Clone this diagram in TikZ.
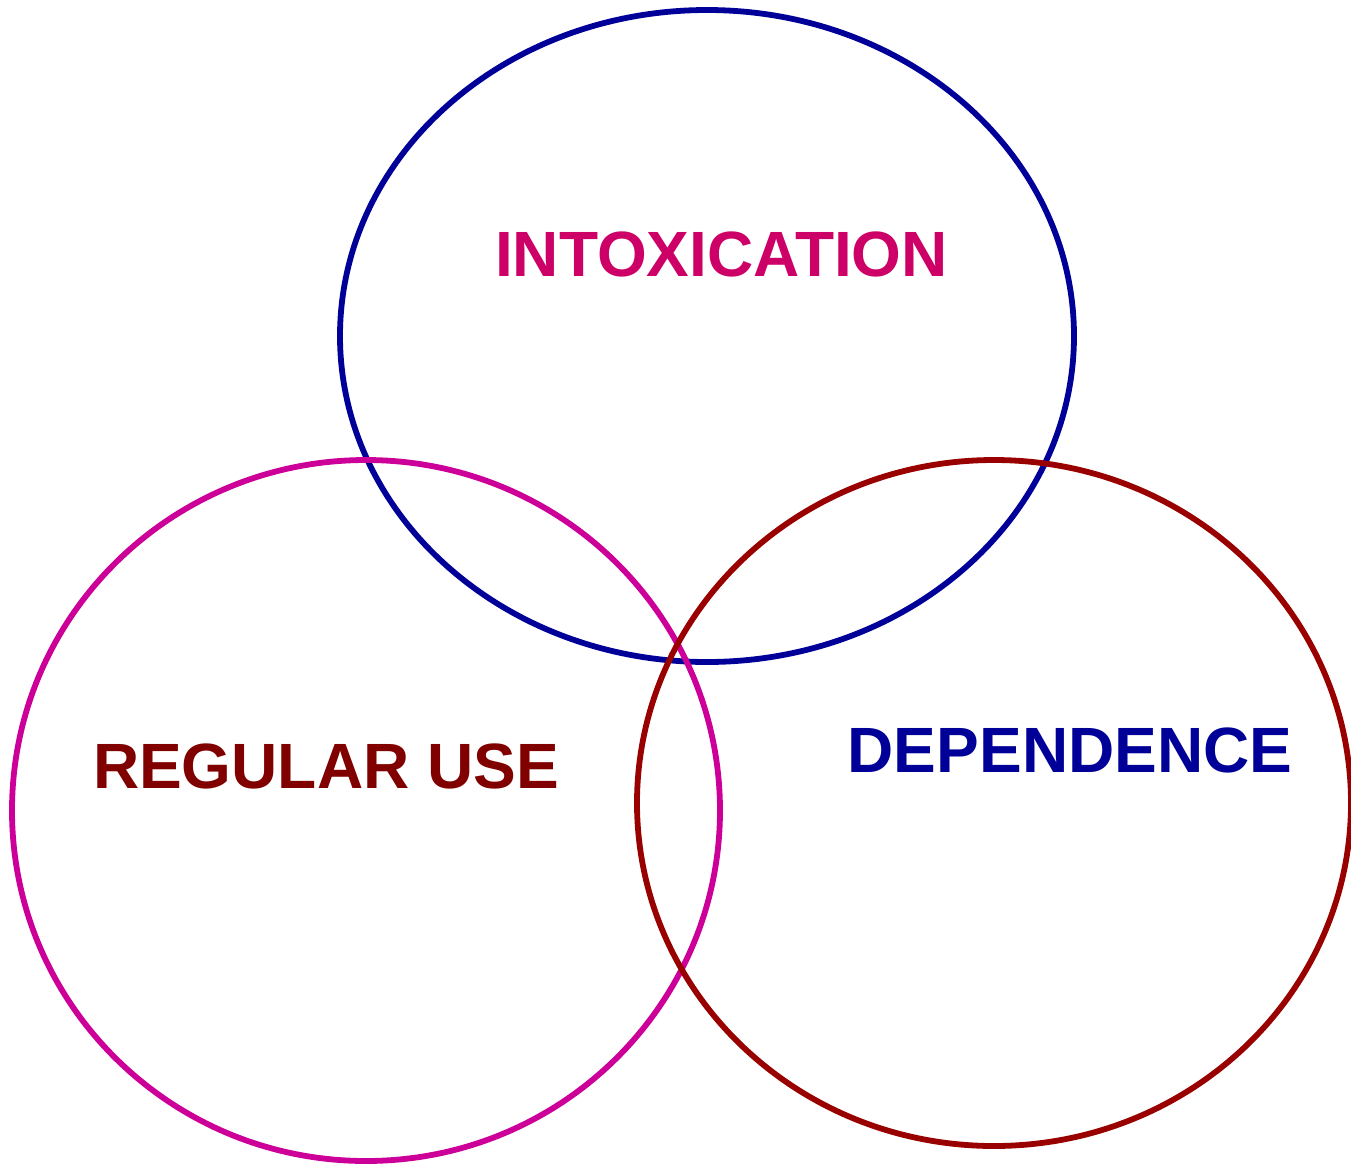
\documentclass[tikz,border=0pt]{standalone}
\usepackage{fontspec}
\setmainfont{Liberation Sans}
\usepackage{tikz}
\usetikzlibrary{shapes.geometric,positioning}
\definecolor{ringblue}{HTML}{000099}
\definecolor{ringpink}{HTML}{CC0099}
\definecolor{ringred}{HTML}{990000}
\definecolor{textpink}{HTML}{CC0066}
\definecolor{textred}{HTML}{800000}
\definecolor{textblue}{HTML}{000099}

\begin{document}
\begin{tikzpicture}
			[x=0.5pt, y=-0.5pt, inner sep=0pt,
			ring/.style		= {draw, ellipse, line width=2.9pt, inner sep=0pt},
			label/.style	= {anchor=base, font=\fontsize{32}{38}\selectfont\bfseries}]

			\useasboundingbox (0,0) rectangle (1351,1164);

			% the three rings
			\node [ring, ringblue, minimum width=367pt, minimum height=326pt]	at (707,336)	(intox)	{};
			\node [ring, ringpink, minimum width=354pt, minimum height=350.5pt]	at (366,810.5)	(reguse)	{};
			\node [ring, ringred,  minimum width=357pt, minimum height=343pt]	at (994,803)	(depend)	{};

			% the labels
			\node [label, textpink]	at (721.5,276)	(intoxlabel)	{INTOXICATION};
			\node [label, textred]	at (326,788)	(reguselabel)	{REGULAR USE};
			\node [label, textblue]	at (1070,772)	(dependlabel)	{DEPENDENCE};
\end{tikzpicture}
\end{document}
